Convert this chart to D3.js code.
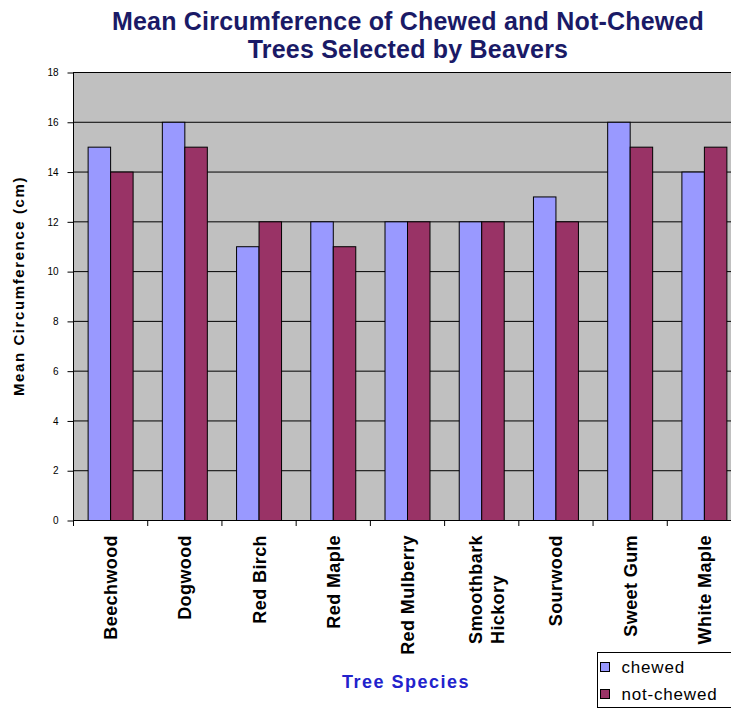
<!DOCTYPE html>
<html>
<head>
<meta charset="utf-8">
<script src="https://cdn.jsdelivr.net/npm/d3@7"></script>
<style>
html,body{margin:0;padding:0;background:#fff;overflow:hidden;}
svg{display:block;}
</style>
</head>
<body>
<svg id="chart" width="731" height="709"></svg>
<script>
const categories = ["Beechwood","Dogwood","Red Birch","Red Maple","Red Mulberry","Smoothbark Hickory","Sourwood","Sweet Gum","White Maple"];
const chewed = [15,16,11,12,12,12,13,16,14];
const notChewed = [14,15,12,11,12,12,12,15,15];
const seriesNames = ["chewed","not-chewed"];
const seriesColors = ["#9999ff","#993366"];
const yTicks = [0,2,4,6,8,10,12,14,16,18];
const titleLines = ["Mean Circumference of Chewed and Not-Chewed","Trees Selected by Beavers"];

(function(){
const svg = d3.select("#chart");
const mL = 73, mR = 741, mT = 72, mB = 520;
const FONT = "Liberation Sans, Arial, sans-serif";

const x = d3.scaleBand().domain(categories).range([mL, mR]).paddingInner(0).paddingOuter(0);
const y = d3.scaleLinear().domain([0,18]).range([mB, mT]);
const inner = d3.scaleBand().domain(seriesNames).range([0, x.bandwidth()]).paddingInner(0).paddingOuter(0.65);

svg.append("rect").attr("x", mL).attr("y", mT).attr("width", mR-mL).attr("height", mB-mT).attr("fill", "#c0c0c0");

svg.append("g").selectAll("line").data(yTicks.filter(d=>d>0)).join("line")
  .attr("x1", mL).attr("x2", mR).attr("y1", d=>y(d)+0.5).attr("y2", d=>y(d)+0.5)
  .attr("stroke", "#000").attr("stroke-width", 1);

const data = categories.map((c,i)=>({c, vals:[chewed[i], notChewed[i]]}));
const g = svg.append("g");
data.forEach(d=>{
  d.vals.forEach((v,j)=>{
    g.append("rect")
      .attr("x", x(d.c)+inner(seriesNames[j])+0.5)
      .attr("y", y(v)+0.5)
      .attr("width", inner.bandwidth())
      .attr("height", y(0)-y(v))
      .attr("fill", seriesColors[j])
      .attr("stroke", "#000").attr("stroke-width", 1);
  });
});

const yAxis = d3.axisLeft(y).tickValues(yTicks).tickSize(6).tickPadding(9).tickFormat(d3.format("d"));
const ya = svg.append("g").attr("transform", `translate(${mL+0.5},0.5)`).call(yAxis);
ya.select(".domain").attr("d", `M0,${mT}V${mB}`).attr("stroke","#000");
ya.selectAll(".tick line").attr("stroke","#000");
ya.selectAll("text").attr("font-family",FONT).attr("font-size","10px").attr("fill","#000");

const xAxis = d3.axisBottom(x).tickSize(0).tickFormat("");
const xa = svg.append("g").attr("transform", `translate(0,${mB+0.5})`).call(xAxis);
xa.select(".domain").attr("d", `M${mL},0H${mR}`).attr("stroke","#000");
xa.selectAll(".tick").remove();
svg.append("g").selectAll("line").data(categories).join("line")
  .attr("x1", d=>x(d)+0.5).attr("x2", d=>x(d)+0.5)
  .attr("y1", mB).attr("y2", mB+6).attr("stroke","#000");

const lab = svg.append("g").selectAll("text").data(categories).join("text")
  .attr("font-family",FONT).attr("font-size","18px").attr("font-weight","bold")
  .attr("letter-spacing","0.4px")
  .attr("fill","#000").attr("text-anchor","end")
  .attr("transform", d=>`translate(${x(d)+x.bandwidth()/2},535) rotate(-90)`);
lab.each(function(d){
  const t = d3.select(this);
  if (d === "Smoothbark Hickory") {
    const s1 = t.append("tspan").attr("x",0).attr("y",1).text("Smoothbark");
    const len = s1.node().getComputedTextLength();
    t.append("tspan").attr("x",-len).attr("y",23).attr("text-anchor","start").text("Hickory");
  } else {
    t.attr("y",7).text(d);
  }
});

svg.append("g").selectAll("text").data(titleLines).join("text")
  .attr("x", 408).attr("y", (d,i)=>30+i*28)
  .attr("text-anchor","middle")
  .attr("font-family",FONT).attr("font-size","25px").attr("font-weight","bold")
  .attr("letter-spacing","0.2px")
  .attr("fill","#1a1a66").text(d=>d);

svg.append("text").attr("transform","translate(24,286) rotate(-90)")
  .attr("text-anchor","middle").attr("font-family",FONT)
  .attr("font-size","15px").attr("font-weight","bold").attr("letter-spacing","1.6px")
  .attr("fill","#000").text("Mean Circumference (cm)");

svg.append("text").attr("x",406).attr("y",688).attr("text-anchor","middle")
  .attr("font-family",FONT).attr("font-size","18px").attr("font-weight","bold")
  .attr("letter-spacing","1.5px")
  .attr("fill","#2222cc").text("Tree Species");

const lg = svg.append("g").attr("transform","translate(597.5,652.5)");
lg.append("rect").attr("width",140).attr("height",55).attr("fill","#fff").attr("stroke","#000");
seriesNames.forEach((s,i)=>{
  lg.append("rect").attr("x",3).attr("y",10+i*27).attr("width",9).attr("height",9)
    .attr("fill",seriesColors[i]).attr("stroke","#000");
  lg.append("text").attr("x",24).attr("y",20.5+i*27)
    .attr("font-family",FONT).attr("font-size","17px").attr("letter-spacing","0.8px")
    .attr("fill","#000").text(s);
});
})();
</script>
</body>
</html>
